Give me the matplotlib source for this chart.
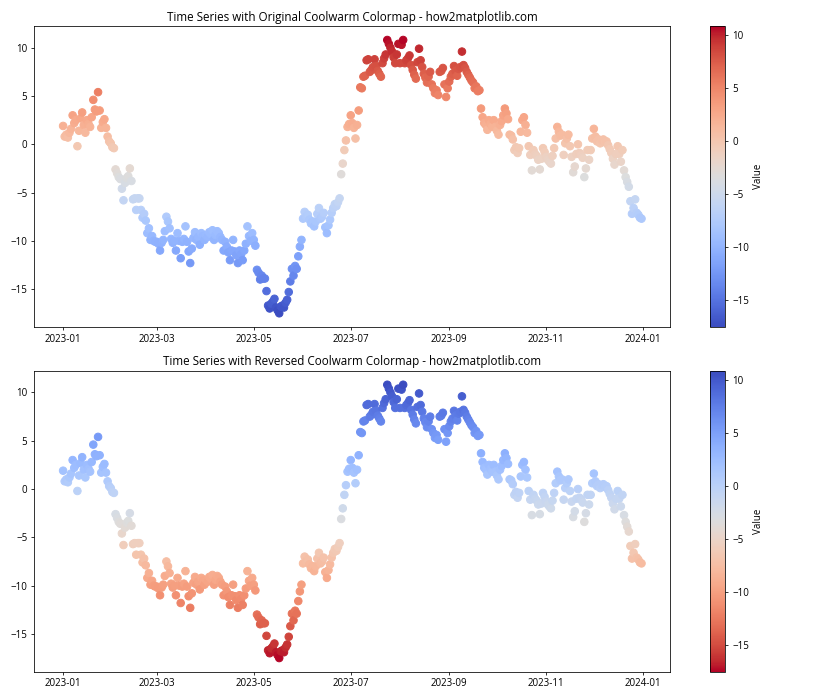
import matplotlib
matplotlib.use('Agg')
import matplotlib.pyplot as plt
import numpy as np
import pandas as pd

plt.rcParams['font.family'] = ['Open Sans', 'DejaVu Sans']

# Daily values, one list per month of 2023
jan_vals = [1.9, 0.8, 1.0, 0.7, 1.2, 1.6, 3.0, 2.2, 2.5, -0.2, 1.4, 2.7, 3.3, 2.0, 1.2, 2.5,
            2.1, 1.8, 2.8, 4.6, 3.6, 3.4, 5.4, 3.5, 1.7, 2.3, 2.6, 1.7, 0.8, 0.3, 0.1]
feb_vals = [-0.3, -0.4, -2.6, -3.0, -3.4, -3.6, -4.6, -5.8, -4.0, -3.5, -3.3, -2.5, -3.8, -5.7,
            -5.6, -6.8, -5.6, -5.6, -6.8, -7.6, -7.2, -7.9, -9.2, -8.7, -9.9, -9.5, -10.0, -10.1]
mar_vals = [-10.1, -10.3, -11.0, -10.2, -9.9, -9.0, -7.5, -8.0, -8.7, -9.8, -10.2, -10.0, -11.0,
            -9.2, -10.0, -11.8, -10.1, -9.8, -8.5, -10.1, -11.1, -12.3, -10.8, -9.7, -9.1, -9.9,
            -9.6, -10.4, -9.2, -9.5, -9.9]
apr_vals = [-9.4, -9.6, -9.1, -9.3, -8.9, -9.9, -9.4, -9.0, -9.2, -9.6, -9.9, -11.0, -10.1, -10.6,
            -11.2, -12.0, -11.0, -9.9, -11.1, -11.5, -12.3, -11.0, -11.4, -12.0, -11.0, -10.3,
            -8.5, -9.5, -10.0, -9.2]
may_vals = [-9.9, -10.5, -13.0, -13.3, -14.0, -13.6, -13.9, -13.9, -15.2, -16.7, -17.0, -16.5,
            -16.3, -16.0, -16.9, -17.2, -17.5, -16.8, -16.7, -16.9, -16.4, -16.1, -15.3, -14.2,
            -12.9, -13.6, -12.6, -12.9, -11.6, -10.6, -9.9]
jun_vals = [-7.7, -7.0, -7.5, -7.3, -7.8, -8.2, -8.0, -8.5, -8.0, -7.2, -6.6, -7.7, -7.5, -7.1,
            -8.6, -9.2, -8.4, -7.8, -7.1, -6.6, -6.2, -6.4, -6.0, -5.6, -3.1, -2.0, -0.6, 0.4,
            1.8, 2.1]
jul_vals = [3.0, 2.2, 1.7, 0.6, 2.0, 3.5, 5.9, 5.8, 7.0, 7.1, 8.7, 8.8, 7.5, 7.7, 8.0, 8.8, 8.1,
            7.6, 7.3, 7.0, 8.4, 8.9, 9.3, 10.8, 10.4, 10.0, 9.6, 9.0, 8.4, 9.3, 10.4]
aug_vals = [8.4, 10.3, 10.8, 8.4, 8.7, 8.9, 9.2, 8.2, 7.7, 7.2, 6.8, 8.5, 9.9, 8.7, 8.0, 7.3,
            6.9, 6.4, 7.0, 7.5, 6.2, 5.8, 5.3, 5.6, 5.1, 7.5, 7.6, 7.9, 6.2, 4.9, 5.8]
sep_vals = [6.5, 7.0, 7.3, 8.1, 7.6, 7.1, 7.8, 8.0, 9.6, 8.2, 7.9, 7.5, 7.2, 6.9, 6.6, 6.4, 5.8,
            6.0, 5.5, 5.6, 3.7, 2.8, 2.2, 2.0, 1.5, 2.5, 2.1, 1.8, 2.5, 1.8]
oct_vals = [1.4, 1.0, 2.0, 2.4, 3.0, 3.7, 3.2, 2.6, 1.0, 0.9, 0.5, -0.6, -0.3, -0.9, -0.4, 1.3,
            2.5, 2.8, 2.0, 1.2, -0.2, -1.1, -2.7, -0.6, -1.0, -1.2, -1.6, -2.6, -1.5, -0.4, -0.8]
nov_vals = [-1.3, -1.6, -1.8, -2.0, -1.2, -0.4, 0.6, 1.8, 1.3, 0.9, 1.0, -1.1, 0.1, 0.6, 1.0,
            -0.2, -1.3, -2.9, -2.3, -1.0, 0.0, -0.9, -1.1, -1.4, -3.4, -2.5, -0.6, -1.6, -0.6, 0.6]
dec_vals = [1.6, 0.8, 0.3, 0.5, 0.1, 0.4, 0.5, 0.2, 0.3, -0.1, -0.5, -0.9, -1.5, -2.1, -1.0,
            -0.2, -1.0, -1.8, -0.6, -2.7, -3.4, -3.9, -4.4, -5.9, -7.2, -6.6, -5.7, -7.1, -7.3,
            -7.6, -7.7]

values = np.array(jan_vals + feb_vals + mar_vals + apr_vals + may_vals + jun_vals +
                  jul_vals + aug_vals + sep_vals + oct_vals + nov_vals + dec_vals)
dates = pd.date_range('2023-01-01', periods=len(values), freq='D')

titles = ['Time Series with Original Coolwarm Colormap - how2matplotlib.com',
          'Time Series with Reversed Coolwarm Colormap - how2matplotlib.com']
cmaps = ['coolwarm', 'coolwarm_r']

fig, axes = plt.subplots(2, 1, figsize=(12, 10), dpi=70)

for ax, title, cmap in zip(axes, titles, cmaps):
    sc = ax.scatter(dates, values, c=values, cmap=cmap, s=60)
    ax.set_title(title)
    cbar = fig.colorbar(sc, ax=ax)
    cbar.set_label('Value')

plt.tight_layout()
plt.savefig('out.png', dpi=70)
